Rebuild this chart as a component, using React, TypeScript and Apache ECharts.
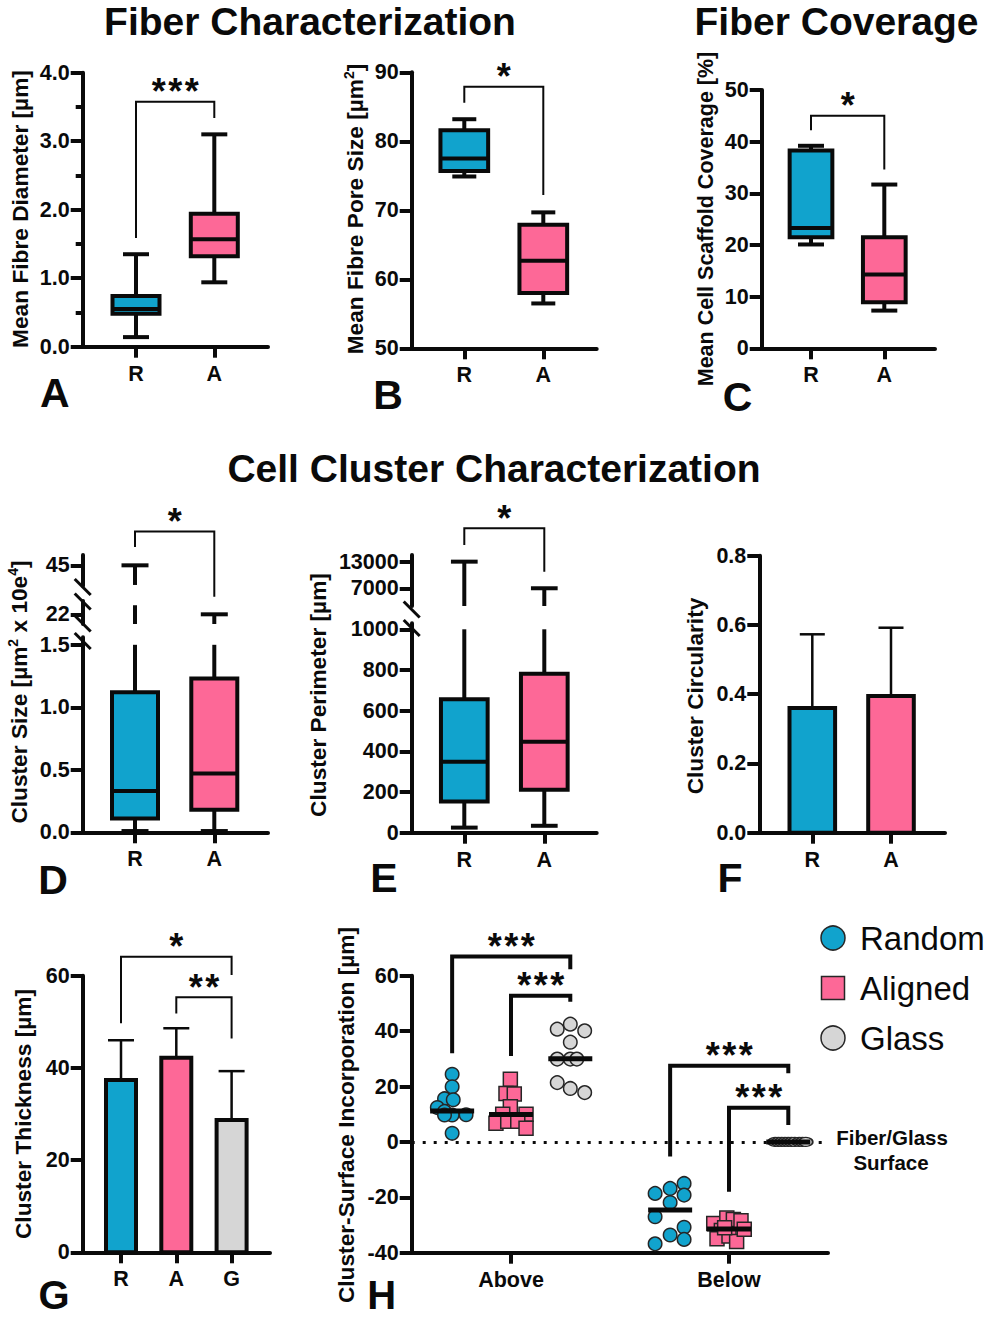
import React, { useEffect, useRef } from "react";
import * as echarts from "echarts";

const W = 989;
const H = 1317;
const BLUE = "#11a3cd";
const PINK = "#fd6897";
const GRAY = "#d6d6d6";
const INK = "#0a0a0a";
const EDGE = "#262626";
const FAM = "Liberation Sans, Arial, Helvetica, sans-serif";

// ---------------- data ----------------
const fiberCats = ["R", "A"];
const thickCats = ["R", "A", "G"];
const incCats = ["Above", "Below"];
const groups = ["Random", "Aligned", "Glass"];
const groupColors = [BLUE, PINK, GRAY];

// box rows: [min, q1, median, q3, max]
const diameterR = [0.14, 0.48, 0.55, 0.74, 1.35];
const diameterA = [0.94, 1.32, 1.57, 1.94, 3.1];
const poreR = [74.9, 75.7, 77.5, 81.6, 83.2];
const poreA = [56.5, 58.0, 62.7, 67.9, 69.7];
const coverageR = [20.1, 21.5, 23.3, 38.3, 39.2];
const coverageA = [7.3, 8.9, 14.3, 21.5, 31.7];
const sizeR = [0.01, 0.11, 0.33, 1.12, 45];
const sizeA = [0.01, 0.18, 0.47, 1.23, 22];
const perimR = [25, 154, 349, 656, 13000];
const perimA = [34, 211, 447, 782, 7000];

// bars: mean and mean+SD
const circMean = [0.36, 0.395];
const circUpper = [0.573, 0.592];
const thickMean = [37.4, 42.2, 28.7];
const thickUpper = [46.0, 48.6, 39.3];

// H: [jitter (axis units), value]
const aboveRandom = [[0, 24.4], [0, 19.9], [-0.035, 15.6], [0.005, 15.2], [-0.068, 12.4], [-0.035, 11.0], [0.064, 9.8], [0, 9.7], [-0.035, 9.7], [0, 3.1]];
const aboveAligned = [[-0.003, 22.6], [-0.023, 17.5], [0.015, 17.3], [-0.003, 12.7], [-0.038, 10.0], [0.069, 10.0], [-0.069, 6.7], [-0.015, 7.5], [0.031, 7.5], [0.069, 4.9]];
const aboveGlass = [[-0.06, 40.7], [0, 42.5], [0.066, 40.1], [0, 36.0], [-0.06, 29.9], [0, 29.9], [0.03, 29.9], [-0.06, 21.4], [0, 19.3], [0.066, 17.8]];
const belowRandom = [[-0.069, -18.6], [0, -16.8], [0.064, -15], [0.064, -19.2], [0, -21.9], [-0.069, -27], [0.064, -30.8], [0, -33.6], [0.064, -35.2], [-0.069, -36.8]];
const belowAligned = [[-0.07, -29.5], [-0.035, -32], [-0.01, -27.5], [0.02, -28], [0.055, -28.5], [-0.055, -35], [0, -34], [0.035, -36], [0.07, -31.5], [-0.02, -31]];
const belowGlass = [[-0.06, 0], [-0.045, 0], [-0.03, 0], [-0.015, 0], [0, 0], [0.015, 0], [0.03, 0], [0.05, 0], [0.065, 0], [0.08, 0]];
const aboveMedians = [11.2, 9.9, 30.0];
const belowMedians = [-24.6, -31.4, 0];
const groupShift = [-0.27, 0, 0.272];

// significance brackets: [x1, x2, yTop, yLeftEnd, yRightEnd]
const bracketA = [[1, 2, 3.577, 1.587, 3.34]];
const bracketB = [[1, 2, 87.9, 85.6, 72.2]];
const bracketC = [[1, 2, 45.0, 42.2, 34.6]];
const bracketD = [[1, 2, 51.56, 48.56, 38.9]];
const bracketE = [[1, 2, 20524, 16756, 10733]];
const bracketG = [[1, 3, 64.1, 49.7, 60.15], [2, 3, 55.3, 51.8, 46.4]];
const bracketH = [
  [1 + groupShift[0], 1 + groupShift[2], 66.9, 32.0, 62.3],
  [1, 1 + groupShift[2], 52.8, 31.0, 50.6],
  [2 + groupShift[0], 2 + groupShift[2], 27.5, -5.3, 24.8],
  [2, 2 + groupShift[2], 12.3, -18.0, 6.1],
];
const starsA = ["***"];
const starsOne = ["*"];
const starsG = ["*", "**"];
const starsH = ["***", "***", "***", "***"];

// ---------------- layout ----------------
type Panel = { left: number; right: number; top: number; bottom: number; c1: number; step: number };
const P: Record<string, Panel> = {
  A: { left: 82.7, right: 268, top: 72.7, bottom: 346.7, c1: 136, step: 78.3 },
  B: { left: 411.7, right: 596.7, top: 72.3, bottom: 348.3, c1: 464.3, step: 79 },
  C: { left: 761.7, right: 935, top: 90, bottom: 348.3, c1: 811, step: 73.3 },
  Dlo: { left: 82.7, right: 268, top: 637.3, bottom: 832.3, c1: 135, step: 79.3 },
  Dmid: { left: 82.7, right: 268, top: 601, bottom: 624, c1: 135, step: 79.3 },
  Dup: { left: 82.7, right: 268, top: 555, bottom: 586, c1: 135, step: 79.3 },
  Elo: { left: 411.7, right: 596.7, top: 623.2, bottom: 832.7, c1: 464.3, step: 80 },
  Eup: { left: 411.7, right: 596.7, top: 555, bottom: 606, c1: 464.3, step: 80 },
  F: { left: 759.3, right: 945, top: 555.7, bottom: 832.7, c1: 812.3, step: 78.7 },
  G: { left: 82.7, right: 270, top: 975.7, bottom: 1252.3, c1: 121, step: 55.3 },
  H: { left: 411.7, right: 828, top: 975.7, bottom: 1252.7, c1: 511, step: 218 },
};
const ORDER = ["A", "B", "C", "Dlo", "Dmid", "Dup", "Elo", "Eup", "F", "G", "H"];
const gi = (k: string) => ORDER.indexOf(k);
const TICK_FONT = 21.5;

function font(size: number, bold = true) {
  return `${bold ? "bold " : ""}${size}px ${FAM}`;
}

function mkX(key: string, cats: string[], show = true) {
  const p = P[key];
  const vals = cats.map((_, k) => k + 1);
  return {
    type: "value",
    gridIndex: gi(key),
    min: 1 - (p.c1 - p.left) / p.step,
    max: 1 + (p.right - p.c1) / p.step,
    show,
    axisLine: { show: true, onZero: false, lineStyle: { color: INK, width: 4 } },
    axisTick: { show: true, customValues: vals, length: 11, lineStyle: { color: INK, width: 4 } },
    axisLabel: {
      show: true,
      customValues: vals,
      formatter: (v: number) => cats[Math.round(v) - 1] || "",
      margin: 16,
      fontSize: TICK_FONT,
      fontWeight: "bold",
      color: INK,
      fontFamily: FAM,
    },
    splitLine: { show: false },
  };
}

function mkY(key: string, min: number, max: number, o: any = {}) {
  return {
    type: "value",
    gridIndex: gi(key),
    min,
    max,
    interval: o.interval,
    axisLine: { show: true, onZero: false, lineStyle: { color: INK, width: 4 } },
    axisTick: { show: true, length: 12, customValues: o.custom, lineStyle: { color: INK, width: 4 } },
    axisLabel: {
      show: true,
      customValues: o.custom,
      formatter: o.fmt || ((v: number) => String(Math.round(v))),
      margin: 13,
      fontSize: TICK_FONT,
      fontWeight: "bold",
      color: INK,
      fontFamily: FAM,
    },
    minorTick: o.minor
      ? { show: true, splitNumber: 2, length: 7, lineStyle: { color: INK, width: 4 } }
      : { show: false },
    splitLine: { show: false },
  };
}

const f1 = (v: number) => v.toFixed(1);

function ln(x1: number, y1: number, x2: number, y2: number, w: number) {
  return { type: "line", shape: { x1, y1, x2, y2 }, style: { stroke: INK, lineWidth: w, lineCap: "butt" } };
}

function boxSeries(key: string, rows: number[][], lo: number, hi: number, boxW: number, capW: number) {
  const idx = gi(key);
  return {
    type: "custom",
    xAxisIndex: idx,
    yAxisIndex: idx,
    clip: false,
    z: 3,
    data: rows.map((r, k) => [k + 1, ...r]),
    renderItem: (params: any, api: any) => {
      const x = api.value(0);
      const mn = api.value(1), q1 = api.value(2), md = api.value(3), q3 = api.value(4), mx = api.value(5);
      const cx = api.coord([x, 0])[0];
      const Y = (v: number) => api.coord([x, v])[1];
      const ch: any[] = [];
      const seg = (a: number, b: number) => {
        const a2 = Math.max(a, lo), b2 = Math.min(b, hi);
        if (b2 > a2) ch.push(ln(cx, Y(a2), cx, Y(b2), 4));
      };
      seg(mn, q1);
      seg(q3, mx);
      [mn, mx].forEach((v) => {
        if (v >= lo && v <= hi) ch.push(ln(cx - capW / 2, Y(v), cx + capW / 2, Y(v), 4));
      });
      const b1 = Math.max(q1, lo), b2 = Math.min(q3, hi);
      if (b2 > b1) {
        ch.push({
          type: "rect",
          shape: { x: cx - boxW / 2, y: Y(b2), width: boxW, height: Y(b1) - Y(b2) },
          style: { fill: groupColors[params.dataIndex], stroke: INK, lineWidth: 4 },
        });
        if (md >= lo && md <= hi) ch.push(ln(cx - boxW / 2, Y(md), cx + boxW / 2, Y(md), 4));
      }
      return { type: "group", children: ch };
    },
  };
}

function barSeries(key: string, means: number[], uppers: number[], barW: number, capW: number) {
  const idx = gi(key);
  return {
    type: "custom",
    xAxisIndex: idx,
    yAxisIndex: idx,
    clip: false,
    z: 3,
    data: means.map((m, k) => [k + 1, m, uppers[k]]),
    renderItem: (params: any, api: any) => {
      const x = api.value(0), m = api.value(1), up = api.value(2);
      const cx = api.coord([x, 0])[0];
      const Y = (v: number) => api.coord([x, v])[1];
      return {
        type: "group",
        children: [
          ln(cx, Y(m), cx, Y(up), 2.5),
          ln(cx - capW / 2, Y(up), cx + capW / 2, Y(up), 2.5),
          {
            type: "rect",
            shape: { x: cx - barW / 2, y: Y(m), width: barW, height: Y(0) - Y(m) },
            style: { fill: groupColors[params.dataIndex], stroke: INK, lineWidth: 4 },
          },
        ],
      };
    },
  };
}

function bracketSeries(key: string, rows: number[][], labels: string[], lw: number) {
  const idx = gi(key);
  return {
    type: "custom",
    xAxisIndex: idx,
    yAxisIndex: idx,
    clip: false,
    z: 4,
    data: rows,
    renderItem: (params: any, api: any) => {
      const x1 = api.value(0), x2 = api.value(1), yt = api.value(2), yl = api.value(3), yr = api.value(4);
      const p1 = api.coord([x1, yl]);
      const p2 = api.coord([x1, yt]);
      const p3 = api.coord([x2, yt]);
      const p4 = api.coord([x2, yr]);
      const label = labels[params.dataIndex] || "";
      const n = label.length;
      const mid = (p2[0] + p3[0]) / 2;
      const stars = label.split("").map((c, i) => ({
        type: "text",
        style: {
          text: c,
          x: mid + (i - (n - 1) / 2) * 16.5,
          y: p2[1] - 10,
          fill: INK,
          font: font(36),
          align: "center",
          verticalAlign: "middle",
        },
      }));
      return {
        type: "group",
        children: [
          {
            type: "polyline",
            shape: { points: [p1, p2, p3, p4] },
            style: { stroke: INK, lineWidth: lw, fill: "none", lineJoin: "miter", lineCap: "butt" },
          },
          ...stars,
        ],
      };
    },
  };
}

function scatterSeries(gIdx: number, symbol: string, size: number) {
  const pts: any[] = [];
  const above = [aboveRandom, aboveAligned, aboveGlass][gIdx];
  const below = [belowRandom, belowAligned, belowGlass][gIdx];
  above.forEach(([dx, v]) => pts.push([1 + groupShift[gIdx] + dx, v]));
  below.forEach(([dx, v]) => {
    if (gIdx === 2) pts.push({ value: [2 + groupShift[gIdx] + dx, v], symbolSize: [14, 9] });
    else pts.push([2 + groupShift[gIdx] + dx, v]);
  });
  const s: any = {
    type: "scatter",
    name: groups[gIdx],
    xAxisIndex: gi("H"),
    yAxisIndex: gi("H"),
    symbol,
    symbolSize: size,
    z: 3,
    itemStyle: { color: groupColors[gIdx], borderColor: EDGE, borderWidth: 1.5, opacity: 1 },
    data: pts,
  };
  if (gIdx === 0) {
    s.markLine = {
      silent: true,
      z: 1,
      symbol: ["none", "none"],
      label: { show: false },
      lineStyle: { color: INK, width: 3, type: [3, 8] },
      data: [{ yAxis: 0 }],
    };
  }
  return s;
}

function medianSeries() {
  const rows: number[][] = [];
  aboveMedians.forEach((m, k) => rows.push([1 + groupShift[k], m]));
  belowMedians.forEach((m, k) => rows.push([2 + groupShift[k], m]));
  return {
    type: "custom",
    xAxisIndex: gi("H"),
    yAxisIndex: gi("H"),
    clip: false,
    z: 5,
    data: rows,
    renderItem: (params: any, api: any) => {
      const c = api.coord([api.value(0), api.value(1)]);
      return ln(c[0] - 22, c[1], c[0] + 22, c[1], 5);
    },
  };
}

function textEl(text: string, x: number, y: number, size: number, opts: any = {}) {
  return {
    type: "text",
    x,
    y,
    rotation: opts.rotate ? Math.PI / 2 : 0,
    z: 100,
    style: {
      text,
      rich: opts.rich,
      fill: INK,
      font: font(size, opts.bold !== false),
      align: opts.align || "center",
      verticalAlign: "middle",
      textAlign: opts.align || "center",
      textVerticalAlign: "middle",
    },
  };
}

function supRich(size: number) {
  return {
    t: { fill: INK, font: font(size), fontSize: size, fontWeight: "bold", fontFamily: FAM, lineHeight: size + 4 },
    s: { fill: INK, font: font(14), fontSize: 14, fontWeight: "bold", fontFamily: FAM, verticalAlign: "top" },
  };
}

function slash(x: number, y: number) {
  return {
    type: "line",
    z: 100,
    shape: { x1: x - 8, y1: y - 8, x2: x + 8, y2: y + 8 },
    style: { stroke: INK, lineWidth: 3 },
  };
}

function buildOption() {
  const grid = ORDER.map((k) => {
    const p = P[k];
    return {
      left: p.left,
      top: p.top,
      width: p.right - p.left,
      height: p.bottom - p.top,
      containLabel: false,
      outerBoundsMode: "none",
    };
  });

  const xAxis = [
    mkX("A", fiberCats),
    mkX("B", fiberCats),
    mkX("C", fiberCats),
    mkX("Dlo", fiberCats),
    mkX("Dmid", fiberCats, false),
    mkX("Dup", fiberCats, false),
    mkX("Elo", fiberCats),
    mkX("Eup", fiberCats, false),
    mkX("F", fiberCats),
    mkX("G", thickCats),
    mkX("H", incCats),
  ];

  const yAxis = [
    mkY("A", 0, 4, { interval: 1, fmt: f1, minor: true }),
    mkY("B", 50, 90, { interval: 10 }),
    mkY("C", 0, 50, { interval: 10 }),
    mkY("Dlo", 0, 1.56, { custom: [0, 0.5, 1, 1.5], fmt: f1 }),
    mkY("Dmid", 20.4, 24.2, { custom: [22] }),
    mkY("Dup", 41, 47, { custom: [45] }),
    mkY("Elo", 0, 1030, { custom: [0, 200, 400, 600, 800, 1000] }),
    mkY("Eup", 3000, 14500, { custom: [7000, 13000] }),
    mkY("F", 0, 0.8, { interval: 0.2, fmt: f1 }),
    mkY("G", 0, 60, { interval: 20 }),
    mkY("H", -40, 60, { interval: 20 }),
  ];

  const series: any[] = [
    boxSeries("A", [diameterR, diameterA], -Infinity, Infinity, 47, 26),
    boxSeries("B", [poreR, poreA], -Infinity, Infinity, 47.7, 24),
    boxSeries("C", [coverageR, coverageA], -Infinity, Infinity, 42.7, 26),
    boxSeries("Dlo", [sizeR, sizeA], 0, 1.5, 46, 27),
    boxSeries("Dmid", [sizeR, sizeA], 20.4, 23.5, 46, 27),
    boxSeries("Dup", [sizeR, sizeA], 41.2, 47, 46, 27),
    boxSeries("Elo", [perimR, perimA], 0, 1000, 46.7, 26.7),
    boxSeries("Eup", [perimR, perimA], 3000, 14500, 46.7, 26.7),
    barSeries("F", circMean, circUpper, 45.6, 25),
    barSeries("G", thickMean, thickUpper, 30, 26),
    bracketSeries("A", bracketA, starsA, 2),
    bracketSeries("B", bracketB, starsOne, 2),
    bracketSeries("C", bracketC, starsOne, 2),
    bracketSeries("Dup", bracketD, starsOne, 2),
    bracketSeries("Eup", bracketE, starsOne, 2),
    bracketSeries("G", bracketG, starsG, 2),
    bracketSeries("H", bracketH, starsH, 4),
    scatterSeries(0, "circle", 13.5),
    scatterSeries(1, "rect", 14),
    scatterSeries(2, "circle", 13.5),
    medianSeries(),
  ];

  const legendY = [938, 988, 1038];
  const legendEls: any[] = [];
  groups.forEach((g, k) => {
    if (k === 1) {
      legendEls.push({
        type: "rect",
        z: 100,
        shape: { x: 833 - 11.5, y: legendY[k] - 11.5, width: 23, height: 23 },
        style: { fill: groupColors[k], stroke: EDGE, lineWidth: 1.5 },
      });
    } else {
      legendEls.push({
        type: "circle",
        z: 100,
        shape: { cx: 833, cy: legendY[k], r: 12 },
        style: { fill: groupColors[k], stroke: EDGE, lineWidth: 1.5 },
      });
    }
    legendEls.push(textEl(g, 860, legendY[k], 33, { bold: false, align: "left" }));
  });

  const TITLE = 22.7;
  const graphic = [
    textEl("Fiber Characterization", 310, 21, 39),
    textEl("Fiber Coverage", 836.5, 21, 39),
    textEl("Cell Cluster Characterization", 494, 468, 39),
    textEl("A", 54.7, 393, 41),
    textEl("B", 388, 395, 41),
    textEl("C", 737.5, 397, 41),
    textEl("D", 53, 880, 41),
    textEl("E", 384, 878, 41),
    textEl("F", 730, 877.5, 41),
    textEl("G", 54, 1295, 40),
    textEl("H", 381.7, 1295, 40),
    textEl("Mean Fibre Diameter [µm]", 20, 209, TITLE, { rotate: true }),
    textEl("{t|Mean Fibre Pore Size [µm}{s|2}{t|]}", 355, 209, TITLE, { rotate: true, rich: supRich(TITLE) }),
    textEl("Mean Cell Scaffold Coverage [%]", 706, 219, 21.5, { rotate: true }),
    textEl("{t|Cluster Size [µm}{s|2}{t| x 10e}{s|4}{t|]}", 19, 692, TITLE, { rotate: true, rich: supRich(TITLE) }),
    textEl("Cluster Perimeter [µm]", 317.5, 695, TITLE, { rotate: true }),
    textEl("Cluster Circularity", 695, 696, TITLE, { rotate: true }),
    textEl("Cluster Thickness [µm]", 23, 1114, TITLE, { rotate: true }),
    textEl("Cluster-Surface Incorporation [µm]", 346, 1115, TITLE, { rotate: true }),
    textEl("Fiber/Glass", 892, 1137, 20.5),
    textEl("Surface", 891, 1162, 20.5),
    slash(82.7, 587),
    slash(82.7, 601.5),
    slash(82.7, 623.5),
    slash(82.7, 641),
    slash(411.7, 609.5),
    slash(411.7, 628),
    ...legendEls,
  ];

  return {
    animation: false,
    backgroundColor: "#ffffff",
    textStyle: { fontFamily: FAM },
    grid,
    xAxis,
    yAxis,
    series,
    graphic,
  };
}

export default function App() {
  const ref = useRef<HTMLDivElement>(null);
  useEffect(() => {
    if (!ref.current) return;
    const chart = echarts.init(ref.current, null, { renderer: "svg" });
    chart.setOption(buildOption() as any);
    return () => chart.dispose();
  }, []);
  return (
    <div
      ref={ref}
      style={{ position: "absolute", left: 0, top: 0, width: W, height: H, background: "#fff" }}
    />
  );
}
